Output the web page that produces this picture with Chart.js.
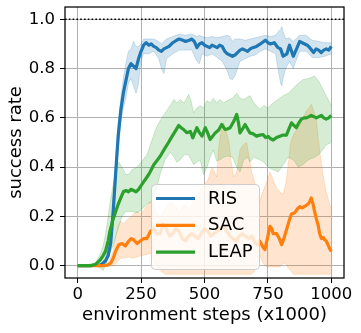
<!DOCTYPE html>
<html>
<head>
<meta charset="utf-8">
<script src="https://cdn.jsdelivr.net/npm/chart.js@4.4.0/dist/chart.umd.min.js"></script>
<style>
  html, body { margin: 0; padding: 0; background: #ffffff; }
  #wrap { width: 361px; height: 333px; }
</style>
</head>
<body>
<div id="wrap"><canvas id="c" width="361" height="333"></canvas></div>
<script>
// ---------------- data ----------------
const seriesNames = ['RIS', 'SAC', 'LEAP'];
const xTicks = [0, 250, 500, 750, 1000];
const yTicks = [0, 0.2, 0.4, 0.6, 0.8, 1.0];
const goalLevel = 1.0;

// RIS
const risSteps = [0,50,90,100,110,120,130,140,150,160,170,180,190,200,210,220,230,240,250,260,270,280,290,300,310,320,330,340,350,360,375,390,400,415,425,440,450,460,470,480,490,500,510,520,530,540,550,560,570,580,590,600,610,620,630,640,650,660,670,680,690,705,720,740,750,760,775,790,800,810,825,835,850,865,875,885,895,905,915,930,940,950,960,970,980,990,1000];
const risMean = [0,0,0.003,0.01,0.02,0.04,0.09,0.22,0.38,0.53,0.63,0.70,0.75,0.80,0.82,0.81,0.80,0.84,0.87,0.895,0.905,0.895,0.90,0.89,0.885,0.875,0.87,0.88,0.885,0.89,0.905,0.915,0.92,0.915,0.91,0.915,0.92,0.91,0.885,0.90,0.905,0.895,0.89,0.885,0.895,0.89,0.885,0.895,0.89,0.87,0.86,0.855,0.85,0.855,0.865,0.875,0.88,0.875,0.87,0.88,0.885,0.89,0.90,0.915,0.905,0.90,0.905,0.885,0.88,0.85,0.86,0.895,0.85,0.885,0.91,0.905,0.90,0.895,0.885,0.865,0.88,0.875,0.865,0.875,0.88,0.875,0.89];
const risBandSteps = [0,90,110,130,140,150,160,170,180,190,200,210,220,230,240,250,260,280,300,320,330,340,350,375,400,425,450,470,480,490,510,530,550,570,590,600,610,620,640,660,680,700,720,740,760,780,790,800,805,810,820,835,850,860,875,900,925,950,975,1000];
const risHigh = [0,0.005,0.03,0.12,0.27,0.43,0.58,0.68,0.76,0.82,0.87,0.88,0.91,0.89,0.89,0.90,0.92,0.92,0.92,0.91,0.90,0.91,0.92,0.93,0.94,0.935,0.94,0.93,0.935,0.93,0.925,0.93,0.925,0.93,0.935,0.93,0.91,0.92,0.92,0.915,0.92,0.925,0.93,0.935,0.93,0.935,0.95,0.96,0.97,0.95,0.92,0.925,0.91,0.92,0.935,0.935,0.915,0.91,0.905,0.905];
const risLow = [0,0,0.01,0.06,0.17,0.33,0.48,0.58,0.64,0.68,0.74,0.76,0.73,0.70,0.74,0.83,0.86,0.86,0.87,0.84,0.80,0.78,0.84,0.86,0.875,0.875,0.875,0.83,0.82,0.86,0.85,0.86,0.845,0.83,0.79,0.76,0.755,0.77,0.83,0.84,0.85,0.855,0.87,0.88,0.87,0.86,0.80,0.74,0.73,0.76,0.80,0.83,0.80,0.83,0.87,0.87,0.845,0.845,0.85,0.86];

// SAC
const sacSteps = [0,100,117,130,140,150,162,175,188,201,211,221,234,247,260,273,287,300,312,325,337,350,362,375,387,400,412,425,437,450,462,475,487,500,512,525,537,550,562,575,587,600,612,625,637,650,662,675,687,700,710,718,728,738,748,758,765,771,784,795,804,813,823,833,843,856,866,876,885,895,908,915,921,928,934,941,948,954,961,968,974,980,987,993,1000];
const sacMean = [0,0,0.002,0.01,0.03,0.06,0.085,0.09,0.08,0.10,0.11,0.105,0.09,0.10,0.11,0.11,0.14,0.15,0.13,0.13,0.17,0.15,0.12,0.13,0.15,0.14,0.11,0.10,0.12,0.13,0.12,0.11,0.13,0.15,0.14,0.12,0.13,0.14,0.15,0.16,0.14,0.12,0.11,0.10,0.12,0.13,0.12,0.11,0.12,0.09,0.085,0.10,0.08,0.065,0.11,0.16,0.15,0.13,0.13,0.11,0.085,0.11,0.145,0.18,0.21,0.215,0.23,0.24,0.235,0.24,0.25,0.26,0.275,0.25,0.22,0.19,0.165,0.13,0.11,0.115,0.105,0.10,0.085,0.07,0.058];
const sacBandSteps = [0,100,120,140,150,160,169,180,200,220,234,250,270,287,300,315,326,345,365,385,400,420,443,460,480,500,515,529,540,548,556,566,575,585,597,605,615,627,640,652,666,676,686,700,710,718,730,745,758,770,784,797,810,820,830,840,850,862,875,890,902,912,921,930,941,950,960,970,980,993,1000];
const sacHigh = [0,0.002,0.01,0.06,0.12,0.16,0.18,0.17,0.19,0.21,0.22,0.21,0.24,0.26,0.24,0.21,0.20,0.23,0.26,0.24,0.22,0.25,0.23,0.27,0.30,0.33,0.35,0.40,0.38,0.36,0.48,0.56,0.58,0.55,0.50,0.42,0.36,0.38,0.47,0.49,0.50,0.44,0.38,0.33,0.30,0.26,0.30,0.34,0.38,0.35,0.315,0.30,0.29,0.33,0.41,0.50,0.53,0.55,0.57,0.60,0.63,0.64,0.655,0.63,0.59,0.50,0.42,0.35,0.30,0.25,0.23];
const sacLow = [0,0,0,0,0.01,0.02,0.03,0.03,0.035,0.03,0.035,0.04,0.045,0.05,0.02,-0.01,-0.02,-0.035,-0.035,-0.035,-0.035,-0.035,-0.035,-0.035,-0.035,-0.035,-0.035,-0.035,-0.035,-0.035,-0.035,-0.035,-0.035,-0.035,-0.035,-0.035,-0.035,-0.035,-0.035,-0.035,-0.035,-0.035,-0.035,-0.02,0.02,0.045,0.01,-0.005,-0.005,-0.005,-0.005,-0.005,0.01,0.01,-0.01,-0.02,-0.035,-0.035,-0.035,-0.035,-0.035,-0.035,-0.035,-0.035,-0.035,-0.035,-0.035,-0.035,-0.035,-0.035,-0.035];

// LEAP
const leapSteps = [0,50,70,90,100,110,120,127,140,150,160,170,180,190,200,210,220,230,240,250,260,270,280,287,300,315,326,340,358,372,385,398,408,417,430,444,454,462,470,480,490,503,512,522,532,542,555,568,581,590,601,615,627,634,640,650,660,670,679,692,705,718,731,741,751,761,771,784,797,810,823,835,843,852,862,872,882,892,902,912,921,931,941,951,961,970,980,990,1000];
const leapMean = [0,0,0.005,0.025,0.04,0.06,0.10,0.14,0.19,0.22,0.25,0.275,0.30,0.305,0.30,0.31,0.305,0.30,0.31,0.325,0.34,0.355,0.37,0.383,0.41,0.43,0.445,0.47,0.50,0.525,0.546,0.569,0.56,0.553,0.54,0.545,0.519,0.54,0.56,0.54,0.526,0.56,0.54,0.512,0.525,0.539,0.55,0.573,0.553,0.555,0.56,0.585,0.614,0.58,0.539,0.555,0.573,0.555,0.539,0.535,0.526,0.53,0.532,0.52,0.525,0.515,0.51,0.52,0.525,0.53,0.53,0.56,0.58,0.57,0.56,0.58,0.595,0.60,0.60,0.605,0.61,0.605,0.60,0.605,0.61,0.60,0.595,0.60,0.61];
const leapBandSteps = [0,70,90,100,110,120,130,140,150,162,175,190,201,215,234,250,273,293,310,326,345,365,380,391,404,420,437,447,457,470,483,496,510,522,535,548,561,575,590,610,627,640,655,670,679,695,718,735,750,770,790,810,830,850,870,888,910,934,950,965,980,1000];
const leapHigh = [0,0.01,0.05,0.08,0.13,0.20,0.27,0.33,0.38,0.42,0.40,0.37,0.37,0.39,0.40,0.42,0.45,0.51,0.56,0.59,0.62,0.65,0.675,0.66,0.675,0.66,0.695,0.67,0.62,0.64,0.65,0.64,0.67,0.66,0.68,0.66,0.675,0.66,0.67,0.68,0.70,0.68,0.675,0.685,0.69,0.66,0.635,0.65,0.64,0.66,0.675,0.69,0.70,0.72,0.74,0.755,0.76,0.77,0.75,0.72,0.69,0.65];
const leapLow = [0,0,-0.01,-0.02,0.0,0.03,0.06,0.08,0.12,0.16,0.20,0.22,0.22,0.22,0.215,0.225,0.25,0.26,0.31,0.375,0.43,0.46,0.44,0.42,0.43,0.45,0.45,0.43,0.41,0.42,0.43,0.37,0.40,0.44,0.47,0.425,0.43,0.44,0.445,0.44,0.40,0.38,0.43,0.44,0.42,0.44,0.43,0.42,0.40,0.39,0.38,0.41,0.44,0.43,0.40,0.41,0.43,0.44,0.45,0.47,0.49,0.50];

// ---------------- styling ----------------
const FONT = '"DejaVu Sans", "Liberation Sans", sans-serif';
const rgb = { RIS: [31,119,180], SAC: [255,127,14], LEAP: [44,160,44] };
const solid = n => `rgb(${rgb[n].join(',')})`;
const faint = (n, a) => `rgba(${rgb[n].join(',')},${a})`;
const zip = (xs, ys) => xs.map((x, i) => ({ x: x, y: ys[i] }));

const series = [
  { name: seriesNames[0], steps: risSteps, mean: risMean, bandSteps: risBandSteps, low: risLow, high: risHigh },
  { name: seriesNames[1], steps: sacSteps, mean: sacMean, bandSteps: sacBandSteps, low: sacLow, high: sacHigh },
  { name: seriesNames[2], steps: leapSteps, mean: leapMean, bandSteps: leapBandSteps, low: leapLow, high: leapHigh }
];

const LINE_W = 3.2;
const datasets = [];
series.forEach((s, k) => {
  const bandOrder = 20 - k;
  datasets.push({
    label: s.name + ' low', data: zip(s.bandSteps, s.low), isBand: true,
    borderColor: faint(s.name, 0.2), borderWidth: 1, pointRadius: 0, fill: false, order: bandOrder, tension: 0
  });
  datasets.push({
    label: s.name + ' high', data: zip(s.bandSteps, s.high), isBand: true,
    borderColor: faint(s.name, 0.2), borderWidth: 1, pointRadius: 0,
    backgroundColor: faint(s.name, 0.2), fill: '-1', order: bandOrder, tension: 0
  });
});
series.forEach((s, k) => {
  datasets.push({
    label: s.name, data: zip(s.steps, s.mean), isBand: false,
    borderColor: solid(s.name), borderWidth: LINE_W, pointRadius: 0, fill: false,
    order: 5 - k, tension: 0, borderJoinStyle: 'round', borderCapStyle: 'butt'
  });
});

// decorations: goal line, legend, frame
const decor = {
  id: 'decor',
  afterDatasetsDraw(chart) {
    const { ctx, chartArea: a, scales: { y } } = chart;
    // dotted goal line
    ctx.save();
    ctx.strokeStyle = '#000';
    ctx.lineWidth = 1.6;
    ctx.setLineDash([1.6, 2.2]);
    const gy = y.getPixelForValue(goalLevel);
    ctx.beginPath(); ctx.moveTo(a.left, gy); ctx.lineTo(a.right, gy); ctx.stroke();
    ctx.restore();

    // legend box
    const bw = 108, bh = 85;
    const bx = a.left + 86, by = a.bottom - 9 - bh;
    ctx.save();
    ctx.beginPath();
    if (ctx.roundRect) ctx.roundRect(bx + 0.5, by + 0.5, bw, bh, 4); else ctx.rect(bx + 0.5, by + 0.5, bw, bh);
    ctx.fillStyle = 'rgba(255,255,255,0.8)';
    ctx.fill();
    ctx.strokeStyle = '#cccccc';
    ctx.lineWidth = 1;
    ctx.stroke();
    const lineItems = chart.data.datasets.filter(d => !d.isBand);
    ctx.font = '18px ' + FONT;
    ctx.textBaseline = 'middle';
    ctx.textAlign = 'left';
    lineItems.forEach((d, i) => {
      const ly = by + 14.5 + i * 26.8;
      ctx.strokeStyle = d.borderColor;
      ctx.lineWidth = LINE_W;
      ctx.beginPath(); ctx.moveTo(bx + 5, ly); ctx.lineTo(bx + 44, ly); ctx.stroke();
      ctx.fillStyle = '#000';
      ctx.fillText(d.label, bx + 57, ly + 0.5);
    });
    ctx.restore();
  },
  afterDraw(chart) {
    const { ctx, chartArea: a } = chart;
    ctx.save();
    ctx.strokeStyle = '#000';
    ctx.lineWidth = 1.25;
    ctx.strokeRect(a.left, a.top, a.right - a.left, a.bottom - a.top);
    ctx.restore();
  }
};

new Chart(document.getElementById('c'), {
  type: 'line',
  data: { datasets: datasets },
  plugins: [decor],
  options: {
    responsive: false,
    devicePixelRatio: 1,
    animation: false,
    layout: { padding: { top: 7, right: 17, left: 0, bottom: 0 } },
    plugins: { legend: { display: false }, tooltip: { enabled: false } },
    scales: {
      x: {
        type: 'linear', min: -50, max: 1050,
        afterBuildTicks: s => { s.ticks = xTicks.map(v => ({ value: v })); },
        afterFit: s => { s.height = 55; s.paddingLeft = 0; s.paddingRight = 0; },
        border: { display: false },
        grid: { color: '#b0b0b0', lineWidth: 1, tickColor: '#000', tickLength: 5, drawTicks: true },
        ticks: { color: '#000', font: { family: FONT, size: 16.5 }, padding: 2, maxRotation: 0, autoSkip: false,
                 callback: v => String(v) },
        title: { display: true, text: 'environment steps (x1000)', color: '#000',
                 font: { family: FONT, size: 18 }, padding: { top: 0, bottom: 7 } }
      },
      y: {
        type: 'linear', min: -0.05, max: 1.05,
        afterBuildTicks: s => { s.ticks = yTicks.map(v => ({ value: v })); },
        afterFit: s => { s.width = 65; s.paddingTop = 0; s.paddingBottom = 0; },
        border: { display: false },
        grid: { color: '#b0b0b0', lineWidth: 1, tickColor: '#000', tickLength: 5, drawTicks: true },
        ticks: { color: '#000', font: { family: FONT, size: 16.5 }, padding: 5, autoSkip: false,
                 callback: v => Number(v).toFixed(1) },
        title: { display: true, text: 'success rate', color: '#000',
                 font: { family: FONT, size: 18 }, padding: { top: 6, bottom: 0 } }
      }
    }
  }
});
</script>
</body>
</html>
